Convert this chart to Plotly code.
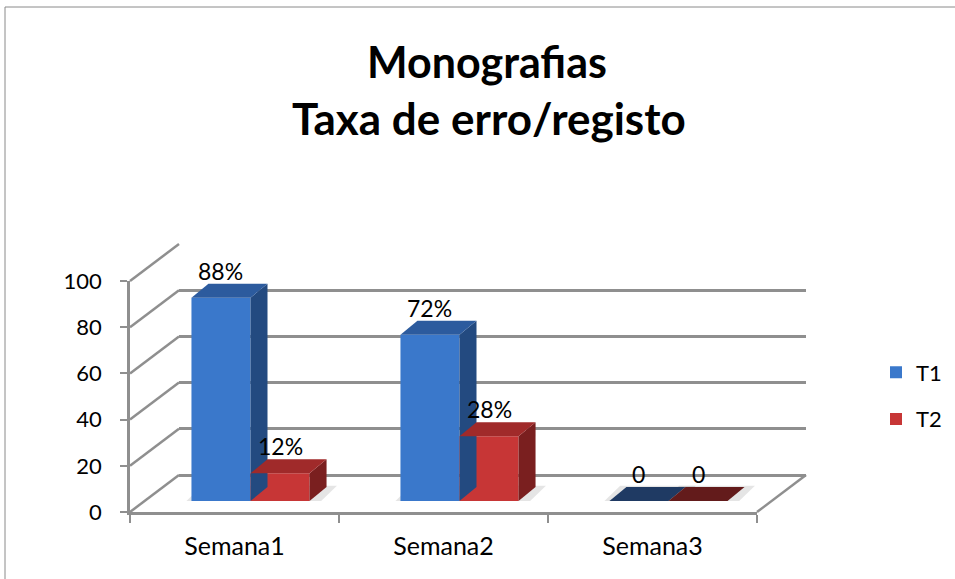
import plotly.graph_objects as go

# ---------------- data ----------------
categories = ["Semana1", "Semana2", "Semana3"]
series_names = ["T1", "T2"]
t1_values = [88, 72, 0]
t2_values = [12, 28, 0]
t1_labels = ["88%", "72%", "0"]
t2_labels = ["12%", "28%", "0"]
y_ticks = [0, 20, 40, 60, 80, 100]

# ---------------- layout constants (pixels) ----------------
W, H = 955, 579
FRONT_L, FRONT_R = 130, 757      # front floor edge
FRONT_B, FRONT_T = 512, 281      # value 0 / value 100 on the front axis
WALL_DX, WALL_DY = 49, 37        # back wall offset
BAR_DX, BAR_DY = 16, 11          # bar front plane offset
DEPTH_DX, DEPTH_DY = 17, 14      # bar depth
BARGAP = 0.435
FONT = "Lato"
GRID = "#8f8f8f"

front_color = {"T1": "#3a78cb", "T2": "#c73636"}
side_color = {"T1": "#234a80", "T2": "#7a1f1f"}
top_color = {"T1": "#2c5b9e", "T2": "#a02a2a"}
flat_color = {"T1": "#1f3a63", "T2": "#631b1b"}


def fx(px):
    return px / W


def fy(py):
    return 1 - py / H


def xdom(left, right):
    return [fx(left), fx(right)]


def ydom(bottom, top):
    return [fy(bottom), fy(top)]


ymax = y_ticks[-1]
px_per_unit = (FRONT_B - FRONT_T) / ymax
px_per_cat = (FRONT_R - FRONT_L) / len(categories)

fig = go.Figure()

# invisible carriers so the front-axis and back-wall subplots are drawn
for xa, ya in [("x", "y"), ("x2", "y2")]:
    fig.add_trace(go.Scatter(
        x=categories, y=[None] * len(categories), xaxis=xa, yaxis=ya,
        mode="markers", showlegend=False, hoverinfo="skip",
    ))

# bars (front faces) on the bar-plane axes
for name, vals in zip(series_names, [t1_values, t2_values]):
    fig.add_trace(go.Bar(
        x=categories, y=vals, name=name, legendgroup=name,
        marker=dict(color=front_color[name], line=dict(width=0)),
        xaxis="x3", yaxis="y3",
    ))

shapes = []
annotations = []

# pseudo-3D faces of the bars, in bar-axis data units
ddx = DEPTH_DX / px_per_cat
ddy = DEPTH_DY / px_per_unit
w = (1 - BARGAP) / 2
for si, (name, vals, labs) in enumerate(zip(series_names, [t1_values, t2_values], [t1_labels, t2_labels])):
    for ci, v in enumerate(vals):
        xl = ci - w + si * w
        xr = xl + w
        # soft shadow on the floor
        shapes.append(dict(
            type="path", xref="x3", yref="y3", layer="below",
            path=f"M{xl-0.03},{-0.5} L{xr+0.05},{-0.5} L{xr+ddx+0.05},{ddy+0.5} L{xl+ddx-0.03},{ddy+0.5} Z",
            fillcolor="rgba(0,0,0,0.10)", line=dict(width=0),
        ))
        if v > 0:
            shapes.append(dict(
                type="path", xref="x3", yref="y3", layer="above",
                path=f"M{xr},0 L{xr},{v} L{xr+ddx},{v+ddy} L{xr+ddx},{ddy} Z",
                fillcolor=side_color[name], line=dict(width=0),
            ))
            top_fill = top_color[name]
        else:
            top_fill = flat_color[name]
        shapes.append(dict(
            type="path", xref="x3", yref="y3", layer="above",
            path=f"M{xl},{v} L{xr},{v} L{xr+ddx},{v+ddy} L{xl+ddx},{v+ddy} Z",
            fillcolor=top_fill, line=dict(width=0),
        ))
        annotations.append(dict(
            x=(xl + xr) / 2, y=v, xref="x3", yref="y3", yshift=27,
            text=labs[ci], showarrow=False,
            font=dict(family=FONT, size=23, color="#000000"),
        ))


def wall_y(v, base_bottom):
    return fy(base_bottom - v * px_per_unit)


# left-wall diagonals (front axis tick -> back wall)
for t in y_ticks:
    shapes.append(dict(
        type="line", xref="paper", yref="paper", layer="below",
        x0=fx(FRONT_L), y0=wall_y(t, FRONT_B),
        x1=fx(FRONT_L + WALL_DX), y1=wall_y(t, FRONT_B - WALL_DY),
        line=dict(color=GRID, width=2.5),
    ))
# floor right edge diagonal
shapes.append(dict(
    type="line", xref="paper", yref="paper", layer="below",
    x0=fx(FRONT_R), y0=wall_y(0, FRONT_B),
    x1=fx(FRONT_R + WALL_DX), y1=wall_y(0, FRONT_B - WALL_DY),
    line=dict(color=GRID, width=2.5),
))
# chart border
shapes.append(dict(
    type="rect", xref="paper", yref="paper", layer="below",
    x0=fx(5), y0=-0.1, x1=1.1, y1=fy(7),
    line=dict(color="#8a8a8a", width=1), fillcolor="rgba(0,0,0,0)",
))

# title (two lines)
annotations.append(dict(
    xref="paper", yref="paper", x=fx(487), y=fy(62), yanchor="middle",
    text="<b>Monografias</b>", showarrow=False,
    font=dict(family=FONT, size=43, color="#000000"),
))
annotations.append(dict(
    xref="paper", yref="paper", x=fx(489), y=fy(118), yanchor="middle",
    text="<b>Taxa de erro/registo</b>", showarrow=False,
    font=dict(family=FONT, size=44, color="#000000"),
))

axis_common = dict(range=[-0.5, len(categories) - 0.5], fixedrange=True, automargin=False)

fig.update_layout(
    width=W, height=H, autosize=False,
    margin=dict(l=0, r=0, t=0, b=0, pad=0, autoexpand=False),
    paper_bgcolor="white", plot_bgcolor="rgba(0,0,0,0)",
    barmode="group", bargap=BARGAP, bargroupgap=0,
    showlegend=True,
    legend=dict(
        x=fx(876), y=fy(396), xanchor="left", yanchor="middle",
        font=dict(family=FONT, size=22, color="#000000"),
        tracegroupgap=15, traceorder="grouped",
        bgcolor="rgba(0,0,0,0)",
    ),
    font=dict(family=FONT, color="#000000"),
    # front axes: labels, ticks, floor edge
    xaxis=dict(
        domain=xdom(FRONT_L, FRONT_R), anchor="y", type="category",
        categoryorder="array", categoryarray=categories,
        showline=True, linecolor=GRID, linewidth=2.5,
        ticks="outside", tickson="boundaries", ticklen=8, tickcolor=GRID, tickwidth=2,
        showgrid=False, zeroline=False,
        tickfont=dict(family=FONT, size=25, color="#000000"),
        ticklabelstandoff=10,
        **axis_common,
    ),
    yaxis=dict(
        domain=ydom(FRONT_B, FRONT_T), anchor="x", range=[0, ymax],
        tickvals=y_ticks, showline=True, linecolor=GRID, linewidth=2.5,
        ticks="outside", ticklen=7, tickcolor=GRID, tickwidth=2,
        showgrid=False, zeroline=False,
        tickfont=dict(family=FONT, size=22, color="#000000"),
        ticklabelstandoff=14, fixedrange=True, automargin=False,
    ),
    # back wall: gridlines
    xaxis2=dict(
        domain=xdom(FRONT_L + WALL_DX, FRONT_R + WALL_DX), anchor="y2", type="category",
        categoryorder="array", categoryarray=categories,
        showline=False, showticklabels=False, ticks="", showgrid=False, zeroline=False,
        **axis_common,
    ),
    yaxis2=dict(
        domain=ydom(FRONT_B - WALL_DY, FRONT_T - WALL_DY), anchor="x2", range=[0, ymax],
        tickvals=y_ticks, showticklabels=False, ticks="", showline=False,
        showgrid=True, gridcolor=GRID, gridwidth=2.5,
        zeroline=True, zerolinecolor=GRID, zerolinewidth=2.5, fixedrange=True,
        automargin=False,
    ),
    # bar plane
    xaxis3=dict(
        domain=xdom(FRONT_L + BAR_DX, FRONT_R + BAR_DX), anchor="y3", type="category",
        categoryorder="array", categoryarray=categories,
        showline=False, showticklabels=False, ticks="", showgrid=False, zeroline=False,
        **axis_common,
    ),
    yaxis3=dict(
        domain=ydom(FRONT_B - BAR_DY, FRONT_T - BAR_DY), anchor="x3", range=[0, ymax],
        showticklabels=False, ticks="", showline=False, showgrid=False, zeroline=False,
        fixedrange=True, automargin=False,
    ),
    shapes=shapes,
    annotations=annotations,
)

fig.write_html(
    "out.html",
    config={"displayModeBar": False},
    post_script="document.body.style.margin='0';",
)
